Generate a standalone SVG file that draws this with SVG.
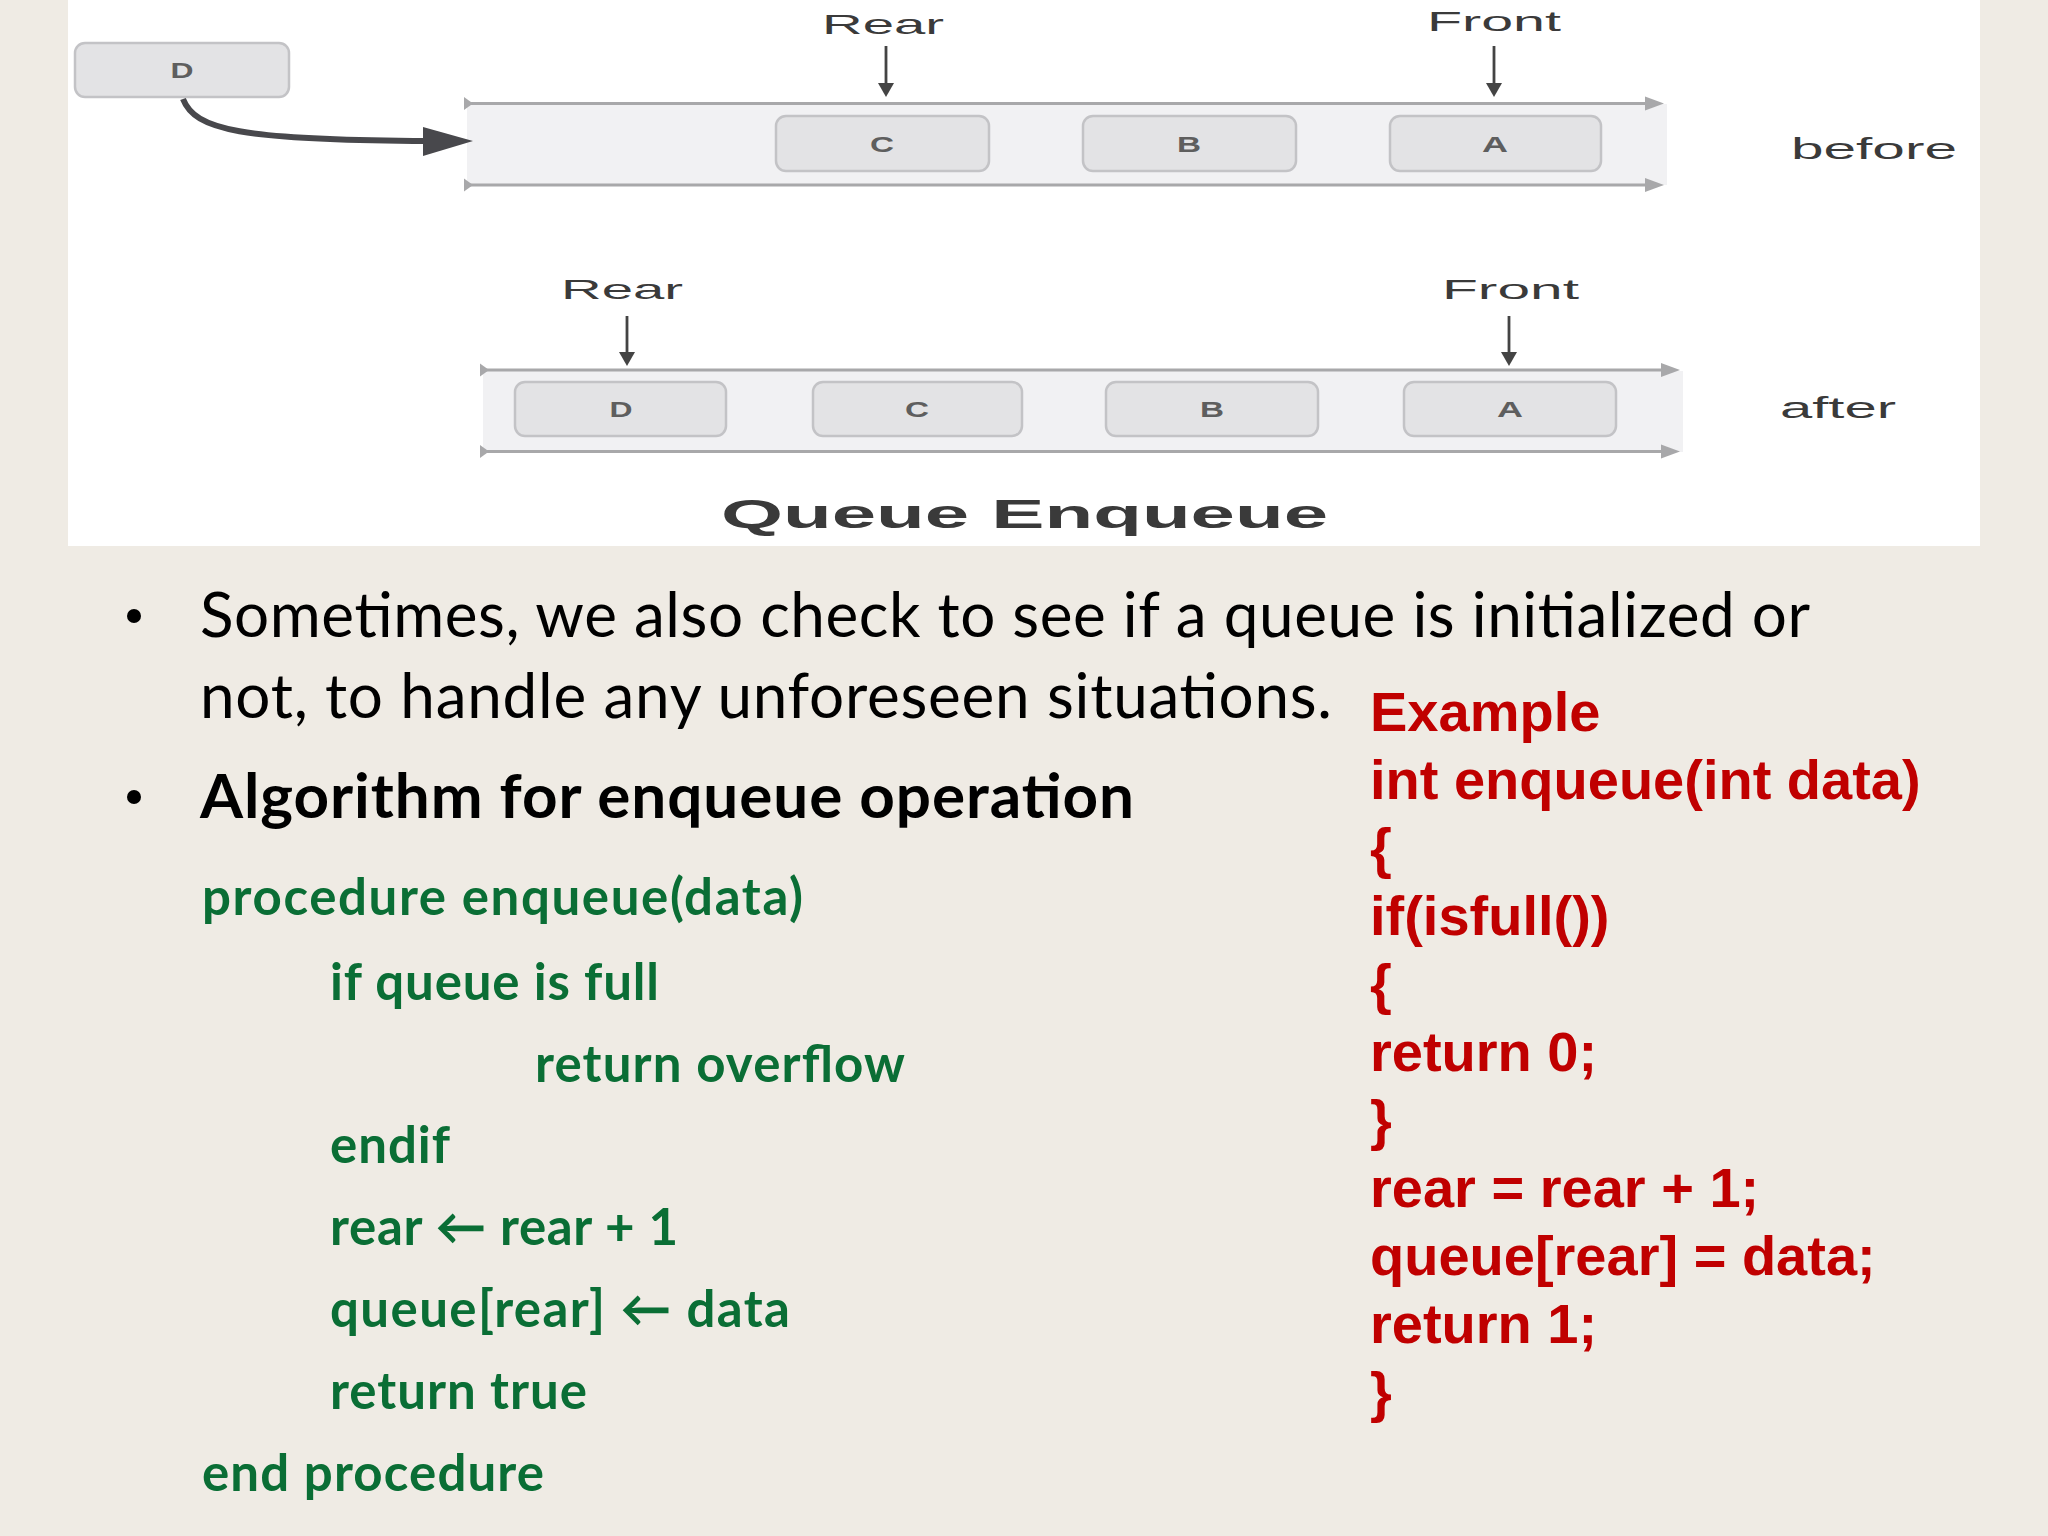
<svg xmlns="http://www.w3.org/2000/svg" width="2048" height="1536" viewBox="0 0 2048 1536">
<style>
.box{fill:#e3e3e5;stroke:#c3c3c6;stroke-width:2.5}
.band{fill:#f1f1f3}
.rail{stroke:#a8a8aa;stroke-width:3;fill:none}
.railhead{fill:#a8a8aa}
.ptr{stroke:#444;stroke-width:2.8;fill:none}
.ptrhead{fill:#444}
.lbl{font-family:"Liberation Sans",Arial,sans-serif;fill:#3a3a3a}
.cell{font-family:"Liberation Sans",Arial,sans-serif;font-size:22px;font-weight:bold;fill:#5e5e5e;text-anchor:middle}
.body{font-family:Lato,"DejaVu Sans",sans-serif;font-size:62px;fill:#000}
.green{font-family:Lato,"DejaVu Sans",sans-serif;font-size:51px;font-weight:bold;fill:#0a6e35}
.red{font-family:"Liberation Sans",Arial,sans-serif;font-size:56px;font-weight:bold;fill:#c00000}
</style>
<rect width="2048" height="1536" fill="#efebe4"/>
<rect x="68" y="0" width="1912" height="546" fill="#ffffff"/>

<g id="before-band">
  <rect class="band" x="467" y="104" width="1200" height="81"/>
  <line class="rail" x1="467" y1="103.5" x2="1652" y2="103.5"/>
  <line class="rail" x1="467" y1="185" x2="1652" y2="185"/>
  <polygon class="railhead" points="464,97 473,103.5 464,110"/>
  <polygon class="railhead" points="464,178.5 473,185 464,191.5"/>
  <polygon class="railhead" points="1645,96.5 1664,103.5 1645,110.5"/>
  <polygon class="railhead" points="1645,178 1664,185 1645,192"/>
</g>
<g id="after-band">
  <rect class="band" x="483" y="371" width="1200" height="81"/>
  <line class="rail" x1="483" y1="370" x2="1668" y2="370"/>
  <line class="rail" x1="483" y1="451.5" x2="1668" y2="451.5"/>
  <polygon class="railhead" points="480,363.5 489,370 480,376.5"/>
  <polygon class="railhead" points="480,445 489,451.5 480,458"/>
  <polygon class="railhead" points="1661,363 1680,370 1661,377"/>
  <polygon class="railhead" points="1661,444.5 1680,451.5 1661,458.5"/>
</g>

<g id="node-D-new">
  <rect class="box" x="75" y="43" width="214" height="54" rx="10"/>
  <text class="cell" x="182" y="78" textLength="23" lengthAdjust="spacingAndGlyphs">D</text>
</g>
<g id="node-C-before">
  <rect class="box" x="776" y="116" width="213" height="55" rx="10"/>
  <text class="cell" x="882" y="151.5" textLength="24" lengthAdjust="spacingAndGlyphs">C</text>
</g>
<g id="node-B-before">
  <rect class="box" x="1083" y="116" width="213" height="55" rx="10"/>
  <text class="cell" x="1189" y="151.5" textLength="24" lengthAdjust="spacingAndGlyphs">B</text>
</g>
<g id="node-A-before">
  <rect class="box" x="1390" y="116" width="211" height="55" rx="10"/>
  <text class="cell" x="1495" y="151.5" textLength="26" lengthAdjust="spacingAndGlyphs">A</text>
</g>
<g id="node-D-after">
  <rect class="box" x="515" y="382" width="211" height="54" rx="10"/>
  <text class="cell" x="621" y="417" textLength="23" lengthAdjust="spacingAndGlyphs">D</text>
</g>
<g id="node-C-after">
  <rect class="box" x="813" y="382" width="209" height="54" rx="10"/>
  <text class="cell" x="917" y="417" textLength="24" lengthAdjust="spacingAndGlyphs">C</text>
</g>
<g id="node-B-after">
  <rect class="box" x="1106" y="382" width="212" height="54" rx="10"/>
  <text class="cell" x="1212" y="417" textLength="24" lengthAdjust="spacingAndGlyphs">B</text>
</g>
<g id="node-A-after">
  <rect class="box" x="1404" y="382" width="212" height="54" rx="10"/>
  <text class="cell" x="1510" y="417" textLength="26" lengthAdjust="spacingAndGlyphs">A</text>
</g>

<g id="labels">
  <text class="lbl" x="822" y="34" font-size="28" textLength="122" lengthAdjust="spacingAndGlyphs">Rear</text>
  <text class="lbl" x="1427" y="31" font-size="28" textLength="134" lengthAdjust="spacingAndGlyphs">Front</text>
  <text class="lbl" x="561" y="299" font-size="28" textLength="122" lengthAdjust="spacingAndGlyphs">Rear</text>
  <text class="lbl" x="1442" y="299" font-size="28" textLength="137" lengthAdjust="spacingAndGlyphs">Front</text>
  <text class="lbl" x="1791" y="159" font-size="30" textLength="166" lengthAdjust="spacingAndGlyphs">before</text>
  <text class="lbl" x="1780" y="418" font-size="30" textLength="116" lengthAdjust="spacingAndGlyphs">after</text>
  <text class="lbl" x="721" y="528" font-size="41" font-weight="bold" textLength="607" lengthAdjust="spacingAndGlyphs">Queue Enqueue</text>
</g>

<g id="connectors">
  <path d="M183,99 C195,130 240,140 428,141" stroke="#48484c" stroke-width="6" fill="none"/>
  <polygon points="423,127 473,141 423,156" fill="#48484c"/>
  <line class="ptr" x1="886" y1="46" x2="886" y2="88"/>
  <polygon class="ptrhead" points="878,83 886,97 894,83"/>
  <line class="ptr" x1="1494" y1="46" x2="1494" y2="88"/>
  <polygon class="ptrhead" points="1486,83 1494,97 1502,83"/>
  <line class="ptr" x1="627" y1="316" x2="627" y2="357"/>
  <polygon class="ptrhead" points="619,352 627,366 635,352"/>
  <line class="ptr" x1="1509" y1="316" x2="1509" y2="357"/>
  <polygon class="ptrhead" points="1501,352 1509,366 1517,352"/>
</g>

<g id="bullets">
  <circle cx="134" cy="616" r="7" fill="#000"/>
  <circle cx="134" cy="797" r="7" fill="#000"/>
  <text class="body" x="200" y="637" textLength="1610">Sometimes, we also check to see if a queue is initialized or</text>
  <text class="body" x="200" y="718" textLength="1132">not, to handle any unforeseen situations.</text>
  <text class="body" x="200" y="818" font-weight="bold" textLength="934">Algorithm for enqueue operation</text>
</g>

<g id="pseudocode">
  <text class="green" x="202" y="915" textLength="601">procedure enqueue(data)</text>
  <text class="green" x="330" y="1000" textLength="329">if queue is full</text>
  <text class="green" x="535" y="1082" textLength="370">return overflow</text>
  <text class="green" x="330" y="1163" textLength="120">endif</text>
  <text class="green" x="330" y="1245" textLength="348">rear ← rear + 1</text>
  <text class="green" x="330" y="1327" textLength="460">queue[rear] ← data</text>
  <text class="green" x="330" y="1409" textLength="257">return true</text>
  <text class="green" x="202" y="1491" textLength="342">end procedure</text>
</g>

<g id="example-code">
  <text class="red" x="1370" y="731">Example</text>
  <text class="red" x="1370" y="799">int enqueue(int data)</text>
  <text class="red" x="1370" y="867">{</text>
  <text class="red" x="1370" y="935">if(isfull())</text>
  <text class="red" x="1370" y="1003">{</text>
  <text class="red" x="1370" y="1071">return 0;</text>
  <text class="red" x="1370" y="1139">}</text>
  <text class="red" x="1370" y="1207">rear = rear + 1;</text>
  <text class="red" x="1370" y="1275">queue[rear] = data;</text>
  <text class="red" x="1370" y="1343">return 1;</text>
  <text class="red" x="1370" y="1411">}</text>
</g>
</svg>
